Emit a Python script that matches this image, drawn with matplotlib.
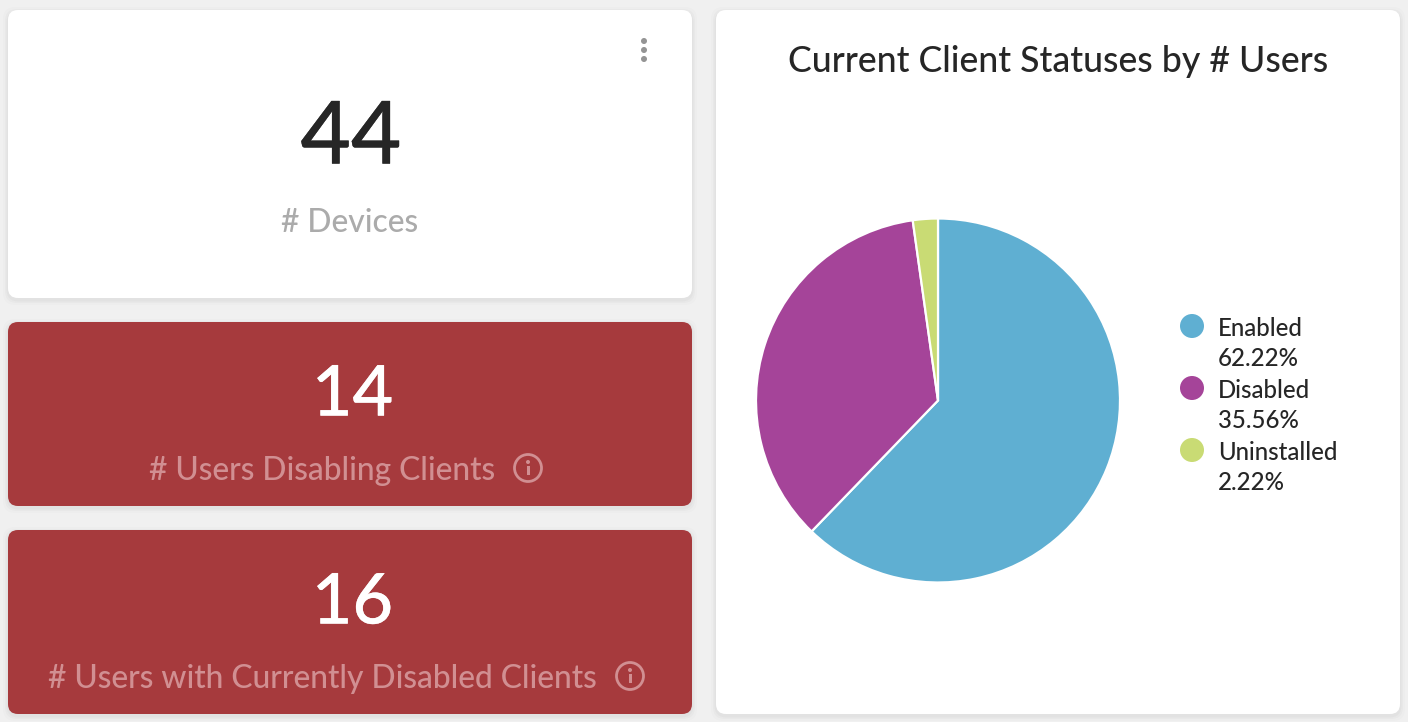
import matplotlib
matplotlib.use("Agg")
import matplotlib.patheffects as pe
import matplotlib.pyplot as plt
from matplotlib.patches import Circle, FancyBboxPatch, Rectangle

# values
stat_values = ["44", "14", "16"]
stat_labels = ["# Devices", "# Users Disabling Clients", "# Users with Currently Disabled Clients"]
pie_title = "Current Client Statuses by # Users"
pie_labels = ["Enabled", "Disabled", "Uninstalled"]
pie_shares = [62.22, 35.56, 2.22]
pie_colors = ["#5fafd2", "#a54499", "#c9db74"]

W, H = 1408, 722
BG = "#f0f0f0"
RED = "#a63a3d"
DARK = "#262626"
PALE = "#d18f92"

plt.rcParams["font.family"] = ["Lato", "DejaVu Sans"]

fig = plt.figure(figsize=(W / 100, H / 100), dpi=100, facecolor=BG)
ax = fig.add_axes([0, 0, 1, 1])
ax.set_xlim(0, W)
ax.set_ylim(H, 0)
ax.axis("off")


def px(size):
    # font size in pt from a height in image pixels
    return size * 0.72


def card(x0, y0, x1, y1, color):
    # soft shadow first, then the card
    for grow, alpha in [(5, 0.012), (3, 0.018), (1.5, 0.025)]:
        ax.add_patch(FancyBboxPatch((x0 - grow, y0 - grow + 2), x1 - x0 + 2 * grow, y1 - y0 + 2 * grow,
                                    boxstyle="round,pad=0,rounding_size=12", fc="black", ec="none", alpha=alpha))
    ax.add_patch(FancyBboxPatch((x0, y0), x1 - x0, y1 - y0, boxstyle="round,pad=0,rounding_size=10",
                                fc=color, ec="none"))


def info_icon(x, y, color):
    ax.add_patch(Circle((x, y), 13.5, fc="none", ec=color, lw=2.0))
    ax.add_patch(Rectangle((x - 1.5, y - 2), 3, 9, fc=color, ec="none"))
    ax.add_patch(Circle((x, y - 6), 2, fc=color, ec="none"))


def big_number(x, y, text, size, color):
    # the digits are a little heavier than the installed medium weight
    ax.text(x, y, text, ha="center", va="center", fontsize=px(size), color=color, fontweight="medium",
            path_effects=[pe.withStroke(linewidth=0.25, foreground=color)])


card(8, 10, 692, 298, "white")
card(8, 322, 692, 506, RED)
card(8, 530, 692, 714, RED)
card(716, 10, 1400, 714, "white")

# menu dots on the first card
for dot_y in [41, 50, 59]:
    ax.add_patch(Circle((644, dot_y), 3.0, fc="#949494", ec="none"))

big_number(351, 139, stat_values[0], 87, DARK)
ax.text(350, 223, stat_labels[0], ha="center", va="center", fontsize=px(31.8), color="#ababab", fontweight="medium")

big_number(352.5, 396, stat_values[1], 70, "white")
ax.text(322, 471, stat_labels[1], ha="center", va="center", fontsize=px(31.8), color=PALE, fontweight="medium")
info_icon(528, 468, PALE)

big_number(352.5, 604, stat_values[2], 70, "white")
ax.text(322, 679, stat_labels[2], ha="center", va="center", fontsize=px(31.8), color=PALE, fontweight="medium")
info_icon(630, 676, PALE)

ax.text(1058, 62, pie_title, ha="center", va="center", fontsize=px(35.6), color=DARK, fontweight="medium")

# pie in its own axes, scaled so the radius is 182 px
cx, cy, r = 938, 400.5, 182
pie_ax = fig.add_axes([(cx - r) / W, 1 - (cy + r) / H, 2 * r / W, 2 * r / H])
pie_ax.pie(pie_shares, colors=pie_colors, startangle=90, counterclock=False, radius=1,
           wedgeprops={"edgecolor": "white", "linewidth": 1.6})
pie_ax.set_xlim(-1, 1)
pie_ax.set_ylim(-1, 1)

# legend entries, two lines each
for i, (name, share, color) in enumerate(zip(pie_labels, pie_shares, pie_colors)):
    y = 329 + i * 62
    ax.add_patch(Circle((1192, y - 3), 12, fc=color, ec="none"))
    ax.text(1218, y, name, ha="left", va="center", fontsize=px(24), color=DARK, fontweight="medium")
    ax.text(1218, y + 29.5, f"{share:.2f}%", ha="left", va="center", fontsize=px(24), color=DARK, fontweight="medium")

fig.savefig("out.png", dpi=100, facecolor=BG)
